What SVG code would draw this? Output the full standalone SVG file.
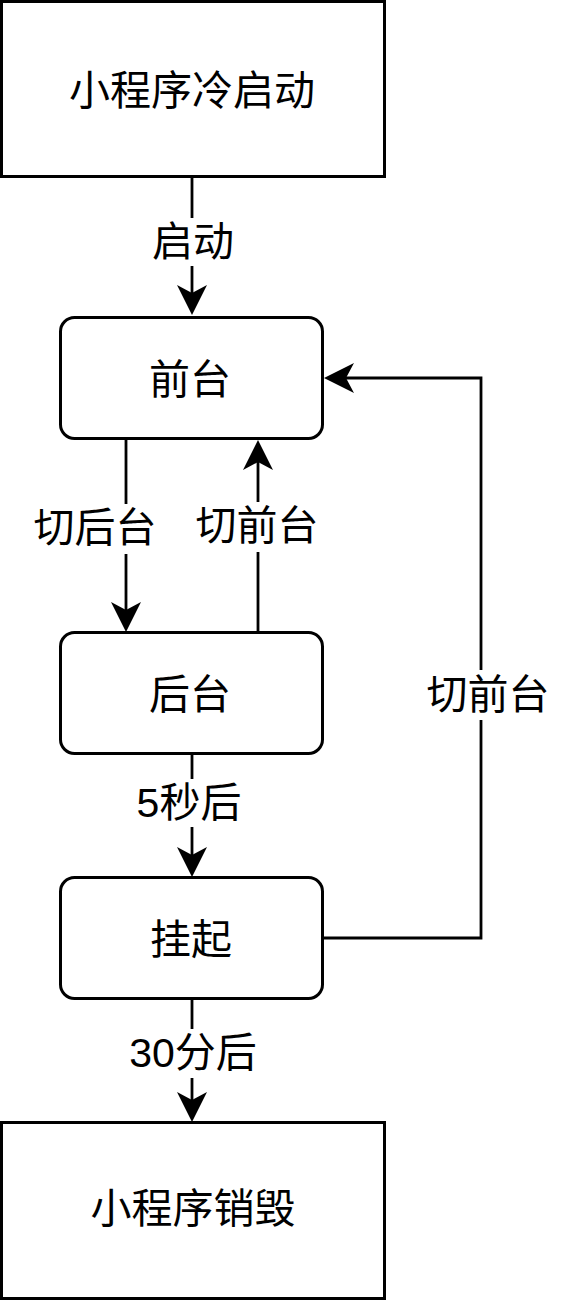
<svg xmlns="http://www.w3.org/2000/svg" width="562" height="1304" viewBox="0 0 562 1304">
<style>
.box{fill:#fff;stroke:#000;stroke-width:3}
.edge{fill:none;stroke:#000;stroke-width:2.8}
.t{font-family:"Liberation Sans","Noto Sans CJK SC",sans-serif;font-size:41px;fill:#000;text-anchor:middle;dominant-baseline:central}
.lb{fill:#fff}
</style>
<defs>
<marker id="arr" viewBox="0 0 30 30" refX="8" refY="15" markerWidth="30" markerHeight="30" orient="auto" markerUnits="userSpaceOnUse">
<path d="M0,0 L30,15 L0,30 L8,15 Z" fill="#000"/>
</marker>
</defs>
<g id="connectors">
<path class="edge" d="M192,177 V293" marker-end="url(#arr)"/>
<path class="edge" d="M126,439 V610" marker-end="url(#arr)"/>
<path class="edge" d="M258,632 V462" marker-end="url(#arr)"/>
<path class="edge" d="M192,755 V855" marker-end="url(#arr)"/>
<path class="edge" d="M192,999 V1100" marker-end="url(#arr)"/>
<path class="edge" d="M323,938 H481 V378 H346" marker-end="url(#arr)"/>
<rect class="lb" x="150" y="218" width="86" height="48"/>
<text class="t" x="193" y="242">启动</text>
<rect class="lb" x="33" y="504" width="124" height="50"/>
<text class="t" x="95" y="528">切后台</text>
<rect class="lb" x="195" y="502" width="124" height="50"/>
<text class="t" x="257" y="526">切前台</text>
<rect class="lb" x="426" y="670" width="124" height="50"/>
<text class="t" x="488" y="695">切前台</text>
<rect class="lb" x="135" y="779" width="108" height="48"/>
<text class="t" x="189" y="803">5秒后</text>
<rect class="lb" x="128" y="1029" width="130" height="49"/>
<text class="t" x="193" y="1053">30分后</text>
</g>
<g id="node-cold-start">
<rect class="box" x="1.5" y="1.5" width="383" height="175"/>
<text class="t" x="192" y="91">小程序冷启动</text>
</g>
<g id="node-foreground">
<rect class="box" x="60.5" y="317.5" width="262" height="121" rx="14"/>
<text class="t" x="190" y="380">前台</text>
</g>
<g id="node-background">
<rect class="box" x="60.5" y="632.5" width="262" height="121" rx="14"/>
<text class="t" x="190" y="695">后台</text>
</g>
<g id="node-suspend">
<rect class="box" x="60.5" y="877.5" width="262" height="121" rx="14"/>
<text class="t" x="191" y="940">挂起</text>
</g>
<g id="node-destroy">
<rect class="box" x="1.5" y="1122.5" width="383" height="176"/>
<text class="t" x="193" y="1209">小程序销毁</text>
</g>
</svg>
